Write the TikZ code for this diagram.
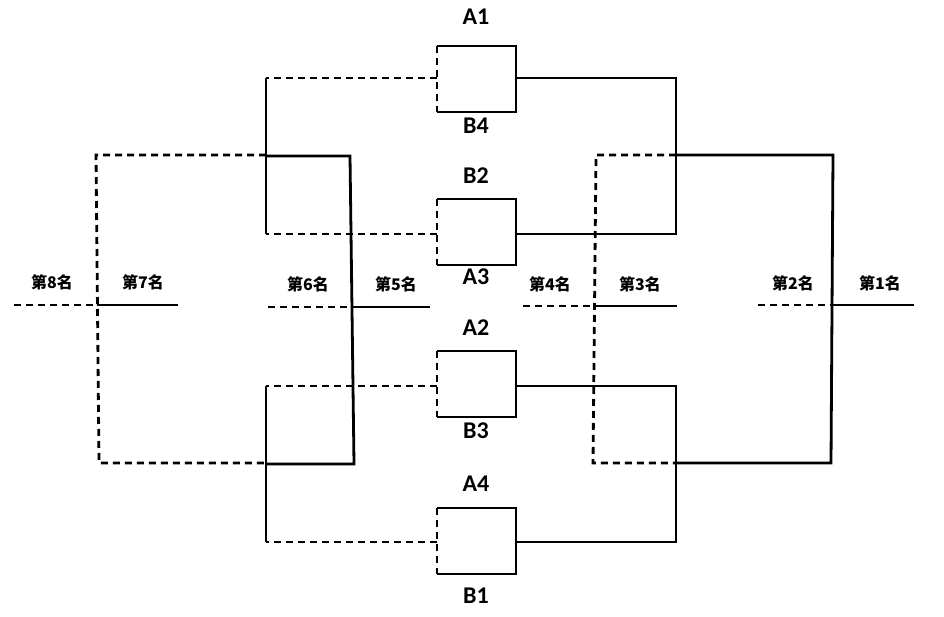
\documentclass[tikz,border=0pt]{standalone}
\usepackage{fontspec}
\setmainfont{Carlito}
\newfontfamily\cjk{Noto Sans CJK SC}
\begin{document}
\begin{tikzpicture}[x=1pt,y=-1pt,
  s/.style={line width=2.8pt},
  d/.style={line width=2.8pt,dash pattern=on 7pt off 5pt},
  lab/.style={font=\fontsize{24}{24}\selectfont\bfseries},
  rk/.style={font=\fontsize{16}{16}\selectfont\cjk\bfseries}]
\useasboundingbox (0,0) rectangle (944,616);
% boxes
\foreach \n/\t/\m in {1/46/78,2/199/234,3/351/386,4/508/542}{
  \coordinate (bl\n) at (437,\m);
  \coordinate (br\n) at (516,\m);
  \draw[s] (437,\t) -- (516,\t) -- (516,\t+66) -- (437,\t+66);
  \draw[d] (437,\t) -- (437,\t+66);
}
\node[lab] (a1) at (476,17) {A1}; \node[lab] (b4) at (476,126) {B4};
\node[lab] (b2) at (476,176) {B2}; \node[lab] (a3) at (476,277) {A3};
\node[lab] (a2) at (476,328) {A2}; \node[lab] (b3) at (476,431) {B3};
\node[lab] (a4) at (476,484) {A4}; \node[lab] (b1) at (476,596) {B1};
% left connectors
\draw[d] (bl1) -- (266,78); \draw[d] (bl2) -- (266,234);
\draw[s] (266,78) -- (266,234);
\draw[d] (bl3) -- (266,386); \draw[d] (bl4) -- (266,542);
\draw[s] (266,386) -- (266,542);
% right connectors
\draw[s] (br1) -- (676,78) -- (676,234) -- (br2);
\draw[s] (br3) -- (676,386) -- (676,542) -- (br4);
% final
\draw[s] (676,155) -- (833,155) -- (831,463) -- (676,463);
\draw[s] (833,305) -- (914,305); \draw[d] (758,305) -- (833,305);
% third
\draw[d] (676,155) -- (596,155) -- (593,463) -- (676,463);
\draw[s] (595,306) -- (677,306); \draw[d] (523,306) -- (595,306);
% fifth
\draw[s] (266,156) -- (350,156) -- (354,464) -- (266,464);
\draw[s] (352,307) -- (430,307); \draw[d] (268,307) -- (352,307);
% seventh
\draw[d] (266,155) -- (96,155) -- (99,463) -- (266,463);
\draw[s] (97,305) -- (178,305); \draw[d] (14,305) -- (97,305);
% ranks
\node[rk] (r8) at (52,282) {第8名};
\node[rk] (r7) at (143,282) {第7名};
\node[rk] (r6) at (308,284) {第6名};
\node[rk] (r5) at (396,284) {第5名};
\node[rk] (r4) at (550,284) {第4名};
\node[rk] (r3) at (640,284) {第3名};
\node[rk] (r2) at (793,283) {第2名};
\node[rk] (r1) at (880,283) {第1名};
\end{tikzpicture}
\end{document}
